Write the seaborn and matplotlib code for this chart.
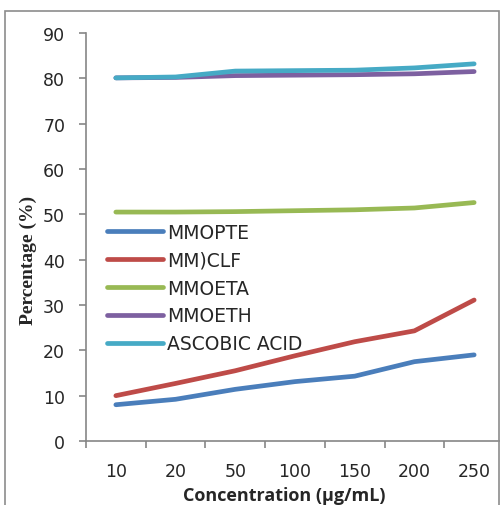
import matplotlib
matplotlib.use("Agg")
import matplotlib.pyplot as plt
import seaborn as sns
import pandas as pd
from matplotlib.patches import Rectangle

concentrations = ["10", "20", "50", "100", "150", "200", "250"]
mmopte = [8.0, 9.2, 11.4, 13.1, 14.3, 17.5, 19.0]
mmclf = [10.0, 12.7, 15.5, 18.8, 21.9, 24.3, 31.1]
mmoeta = [50.5, 50.5, 50.6, 50.8, 51.0, 51.4, 52.6]
mmoeth = [80.1, 80.2, 80.6, 80.7, 80.8, 81.0, 81.5]
ascorbic = [80.1, 80.3, 81.6, 81.7, 81.8, 82.3, 83.2]
series_names = ["MMOPTE", "MM)CLF", "MMOETA", "MMOETH", "ASCOBIC ACID"]
colors = ["#4A7EBB", "#BE4B48", "#98B954", "#7D60A0", "#46AAC5"]

rows = []
for name, vals in zip(series_names, [mmopte, mmclf, mmoeta, mmoeth, ascorbic]):
    for c, v in zip(concentrations, vals):
        rows.append({"Concentration": c, "Percentage": v, "Series": name})
df = pd.DataFrame(rows)

sns.set_style("white")
plt.rcParams["font.family"] = ["DejaVu Sans"]

fig = plt.figure(figsize=(5.0, 5.06), dpi=100)
ax = fig.add_axes([86/500, 1-442/506, 418/500, (442-34)/506])

sns.lineplot(data=df, x="Concentration", y="Percentage", hue="Series",
             hue_order=series_names, palette=colors, linewidth=3.4,
             sort=False, ax=ax)
for ln in ax.get_lines():
    ln.set_solid_capstyle("round")

ax.set_xlim(-0.5, 6.5)
ax.set_ylim(0, 90)
ax.set_yticks(range(0, 91, 10))
ax.set_xticks(range(7))
ax.set_xticklabels(concentrations)
ax.set_xticks([i - 0.5 for i in range(8)], minor=True)
ax.tick_params(axis="x", which="major", length=0, pad=15, labelsize=12.5)
ax.tick_params(axis="x", which="minor", length=5, width=1.2, color="#868686", direction="out", bottom=True)
ax.tick_params(axis="y", length=5, width=1.2, color="#868686", direction="out", left=True, labelsize=12.5, pad=10)
for s in ["top", "right"]:
    ax.spines[s].set_visible(False)
for s in ["left", "bottom"]:
    ax.spines[s].set_color("#868686")
    ax.spines[s].set_linewidth(1.2)
ax.set_xlabel("")
ax.set_ylabel("")

fig.text(284/500, 1-496/506, "Concentration (\u03bcg/mL)", ha="center", va="center",
         fontsize=13, fontweight="bold", family="Open Sans")
fig.text(28/500, 1-260/506, "Percentage (%)", ha="center", va="center", rotation=90,
         fontsize=14, fontweight="bold", family="Liberation Serif")

leg = ax.legend(loc="upper left", bbox_to_anchor=(107/500, 1-224/506), bbox_transform=fig.transFigure,
                frameon=False, fontsize=13.5, handlelength=3.0, handletextpad=0.22,
                labelspacing=0.47, borderaxespad=0, borderpad=0)
for h in leg.get_lines():
    h.set_linewidth(3.4)
    h.set_solid_capstyle("round")

fig.patches.append(Rectangle((5/500, -0.05), 494/500, 1.05 - 12/506, transform=fig.transFigure,
                             fill=False, edgecolor="#8c8c8c", linewidth=1.2))

fig.savefig("out.png", dpi=100)
